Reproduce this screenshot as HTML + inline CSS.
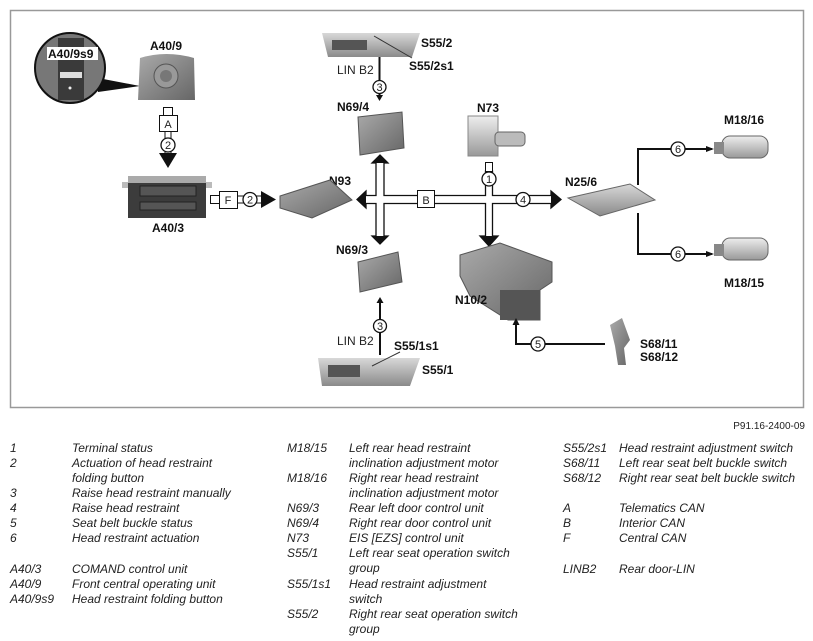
<!DOCTYPE html>
<html><head><meta charset="utf-8"><style>
html,body{margin:0;padding:0;background:#fff;}
svg{display:block;}
.b{font-family:"Liberation Sans",sans-serif;font-weight:bold;font-size:12px;fill:#111;}
.n{font-family:"Liberation Sans",sans-serif;font-size:12px;fill:#222;}
.c{font-family:"Liberation Sans",sans-serif;font-size:11px;fill:#222;text-anchor:middle;}
.l{font-family:"Liberation Sans",sans-serif;font-style:italic;font-size:12px;fill:#222;}
</style></head><body>
<svg width="813" height="641" viewBox="0 0 813 641" xmlns="http://www.w3.org/2000/svg">
<defs>
<linearGradient id="g1" x1="0" y1="0" x2="0" y2="1"><stop offset="0" stop-color="#d8d8d8"/><stop offset="1" stop-color="#8a8a8a"/></linearGradient>
<linearGradient id="g2" x1="0" y1="0" x2="1" y2="1"><stop offset="0" stop-color="#aaa"/><stop offset="1" stop-color="#666"/></linearGradient>
<linearGradient id="g3" x1="0" y1="0" x2="0" y2="1"><stop offset="0" stop-color="#eee"/><stop offset="1" stop-color="#999"/></linearGradient>
</defs>
<rect x="10.5" y="10.5" width="793" height="397" fill="#fff" stroke="#999" stroke-width="1.5"/>

<!-- A40/9s9 zoom circle -->
<polygon points="98,78 140,86 98,92" fill="#111"/>
<circle cx="70" cy="68" r="35" fill="#777" stroke="#111" stroke-width="2"/>
<rect x="58" y="38" width="26" height="62" fill="#3a3a3a"/>
<rect x="60" y="72" width="22" height="6" fill="#ddd"/>
<circle cx="70" cy="88" r="1.5" fill="#eee"/>
<rect x="47" y="47" width="51" height="13" fill="#fff"/>
<text class="b" x="48" y="58">A40/9s9</text>

<!-- A40/9 -->
<text class="b" x="150" y="50">A40/9</text>
<path d="M140,58 Q166,50 194,58 L195,100 L138,100 Z" fill="url(#g2)"/>
<circle cx="166" cy="76" r="12" fill="#999" stroke="#555"/>
<circle cx="166" cy="76" r="6" fill="#777"/>
<!-- A40/9 -> A40/3 -->
<rect x="163.5" y="107.5" width="9" height="8" fill="#fff" stroke="#111"/>
<rect x="159.5" y="115.5" width="18" height="16" fill="#fff" stroke="#111"/>
<text class="c" x="168" y="128">A</text>
<line x1="165" y1="131" x2="165" y2="153" stroke="#111"/><line x1="171" y1="131" x2="171" y2="153" stroke="#111"/>
<circle cx="168" cy="145" r="7" fill="#fff" stroke="#111" stroke-width="1.3"/>
<text class="c" x="168" y="149">2</text>
<polygon points="159,153 177,153 168,168" fill="#111"/>

<!-- A40/3 -->
<rect x="122" y="182" width="90" height="6" fill="#bbb"/>
<rect x="128" y="176" width="78" height="42" fill="#3c3c3c"/>
<rect x="128" y="176" width="78" height="7" fill="#aaa"/>
<rect x="140" y="186" width="56" height="10" fill="#555" stroke="#222"/>
<rect x="140" y="202" width="56" height="8" fill="#555" stroke="#222"/>
<text class="b" x="152" y="232">A40/3</text>
<!-- F connection -->
<rect x="210.5" y="195.5" width="9" height="8" fill="#fff" stroke="#111"/>
<rect x="219.5" y="191.5" width="18" height="17" fill="#fff" stroke="#111"/>
<text class="c" x="228" y="204">F</text>
<line x1="237" y1="196" x2="262" y2="196" stroke="#111"/><line x1="237" y1="203" x2="262" y2="203" stroke="#111"/>
<circle cx="250" cy="199.5" r="7" fill="#fff" stroke="#111" stroke-width="1.3"/>
<text class="c" x="250" y="203.5">2</text>
<polygon points="261,191 276,199.5 261,208" fill="#111"/>

<!-- N93 -->
<text class="b" x="340" y="185" text-anchor="middle">N93</text>
<polygon points="280,196 330,180 352,200 312,218 280,208" fill="url(#g2)" stroke="#555"/>

<!-- S55/2 -->
<polygon points="322,33 420,33 412,57 328,57" fill="url(#g1)"/>
<rect x="332" y="40" width="35" height="10" fill="#555"/>
<line x1="374" y1="36" x2="412" y2="58" stroke="#333"/>
<text class="b" x="421" y="47">S55/2</text>
<text class="b" x="409" y="70">S55/2s1</text>
<text class="n" x="337" y="74">LIN B2</text>
<line x1="379.5" y1="57" x2="379.5" y2="96" stroke="#111" stroke-width="2"/>
<circle cx="379.5" cy="87" r="6.5" fill="#fff" stroke="#111" stroke-width="1.3"/>
<text class="c" x="379.5" y="91">3</text>
<polygon points="376,95 383,95 379.5,101" fill="#111"/>
<text class="b" x="337" y="111">N69/4</text>
<path d="M358,117 L402,112 L404,148 L360,155 Z" fill="url(#g2)" stroke="#555"/>

<!-- Bus -->
<path d="M376,163 L376,195.5 L366,195.5 L366,191 L357,199.5 L366,208 L366,203.5 L376,203.5 L376,236 L372,236 L380,244 L388,236 L384,236 L384,203.5 L485.5,203.5 L485.5,236 L480,236 L489,246 L498,236 L492.5,236 L492.5,203.5 L551,203.5 L551,208 L561,199.5 L551,191 L551,195.5 L492.5,195.5 L492.5,171 L485.5,171 L485.5,195.5 L384,195.5 L384,163 L388,163 L380,155 L372,163 Z" fill="#fff" stroke="#111" stroke-width="1.3"/>
<polygon points="372,163 388,163 380,155" fill="#111"/>
<polygon points="372,236 388,236 380,244" fill="#111"/>
<polygon points="366,191 357,199.5 366,208" fill="#111"/>
<polygon points="551,191 561,199.5 551,208" fill="#111"/>
<polygon points="480,236 498,236 489,246" fill="#111"/>
<rect x="417.5" y="190.5" width="17" height="17" fill="#fff" stroke="#111"/>
<text class="c" x="426" y="204">B</text>
<rect x="485.5" y="162.5" width="7" height="9" fill="#fff" stroke="#111"/>
<circle cx="489" cy="179" r="7" fill="#fff" stroke="#111" stroke-width="1.3"/>
<text class="c" x="489" y="183">1</text>
<circle cx="523" cy="199.5" r="7" fill="#fff" stroke="#111" stroke-width="1.3"/>
<text class="c" x="523" y="203.5">4</text>

<!-- N73 -->
<text class="b" x="477" y="112">N73</text>
<rect x="468" y="116" width="30" height="40" fill="url(#g3)" stroke="#888"/>
<rect x="495" y="132" width="30" height="14" rx="4" fill="#bbb" stroke="#666"/>

<!-- N69/3 -->
<text class="b" x="336" y="254">N69/3</text>
<path d="M358,262 L398,252 L402,282 L360,292 Z" fill="url(#g2)" stroke="#555"/>
<!-- lower LIN -->
<line x1="380" y1="302" x2="380" y2="355" stroke="#111" stroke-width="2"/>
<polygon points="376.5,303 383.5,303 380,297" fill="#111"/>
<circle cx="380" cy="326" r="6.5" fill="#fff" stroke="#111" stroke-width="1.3"/>
<text class="c" x="380" y="330">3</text>
<text class="n" x="337" y="345">LIN B2</text>
<text class="b" x="394" y="350">S55/1s1</text>
<polygon points="318,358 420,358 410,386 322,386" fill="url(#g1)"/>
<rect x="328" y="365" width="32" height="12" fill="#555"/>
<line x1="400" y1="352" x2="372" y2="366" stroke="#333"/>
<text class="b" x="422" y="374">S55/1</text>

<!-- N10/2 -->
<polygon points="460,255 500,243 552,262 552,282 540,290 540,320 508,320 470,296 460,276" fill="url(#g2)" stroke="#555"/>
<rect x="500" y="290" width="40" height="30" fill="#555"/>
<text class="b" x="455" y="304">N10/2</text>
<!-- 5 -->
<path d="M605,344 L516,344 L516,324" fill="none" stroke="#111" stroke-width="2"/>
<polygon points="512.5,325 519.5,325 516,318" fill="#111"/>
<circle cx="538" cy="344" r="7" fill="#fff" stroke="#111" stroke-width="1.3"/>
<text class="c" x="538" y="348">5</text>
<path d="M610,325 L622,318 L630,340 L624,348 L626,365 L618,365 L615,346 Z" fill="url(#g2)"/>
<text class="b" x="640" y="348">S68/11</text>
<text class="b" x="640" y="361">S68/12</text>

<!-- N25/6 -->
<text class="b" x="565" y="186">N25/6</text>
<polygon points="568,198 630,184 655,200 600,216" fill="url(#g1)" stroke="#666"/>
<path d="M638,185 L638,149 L712,149" fill="none" stroke="#111" stroke-width="2"/>
<path d="M638,213 L638,254 L712,254" fill="none" stroke="#111" stroke-width="2"/>
<polygon points="706,146 714,149 706,152" fill="#111"/>
<polygon points="706,251 714,254 706,257" fill="#111"/>
<circle cx="678" cy="149" r="7" fill="#fff" stroke="#111" stroke-width="1.3"/>
<text class="c" x="678" y="153">6</text>
<circle cx="678" cy="254" r="7" fill="#fff" stroke="#111" stroke-width="1.3"/>
<text class="c" x="678" y="258">6</text>
<text class="b" x="724" y="124">M18/16</text>
<rect x="722" y="136" width="46" height="22" rx="8" fill="url(#g3)" stroke="#666"/>
<rect x="714" y="142" width="10" height="12" fill="#888"/>
<text class="b" x="724" y="287">M18/15</text>
<rect x="722" y="238" width="46" height="22" rx="8" fill="url(#g3)" stroke="#666"/>
<rect x="714" y="244" width="10" height="12" fill="#888"/>

<text class="n" x="805" y="429" text-anchor="end" style="font-size:10px">P91.16-2400-09</text>

<!-- Legend -->
<g class="l">
<text x="10" y="452">1</text><text x="72" y="452">Terminal status</text>
<text x="10" y="467">2</text><text x="72" y="467">Actuation of head restraint</text>
<text x="72" y="482">folding button</text>
<text x="10" y="497">3</text><text x="72" y="497">Raise head restraint manually</text>
<text x="10" y="512">4</text><text x="72" y="512">Raise head restraint</text>
<text x="10" y="527">5</text><text x="72" y="527">Seat belt buckle status</text>
<text x="10" y="542">6</text><text x="72" y="542">Head restraint actuation</text>
<text x="10" y="573">A40/3</text><text x="72" y="573">COMAND control unit</text>
<text x="10" y="588">A40/9</text><text x="72" y="588">Front central operating unit</text>
<text x="10" y="603">A40/9s9</text><text x="72" y="603">Head restraint folding button</text>

<text x="287" y="452">M18/15</text><text x="349" y="452">Left rear head restraint</text>
<text x="349" y="467">inclination adjustment motor</text>
<text x="287" y="482">M18/16</text><text x="349" y="482">Right rear head restraint</text>
<text x="349" y="497">inclination adjustment motor</text>
<text x="287" y="512">N69/3</text><text x="349" y="512">Rear left door control unit</text>
<text x="287" y="527">N69/4</text><text x="349" y="527">Right rear door control unit</text>
<text x="287" y="542">N73</text><text x="349" y="542">EIS [EZS] control unit</text>
<text x="287" y="557">S55/1</text><text x="349" y="557">Left rear seat operation switch</text>
<text x="349" y="572">group</text>
<text x="287" y="588">S55/1s1</text><text x="349" y="588">Head restraint adjustment</text>
<text x="349" y="603">switch</text>
<text x="287" y="618">S55/2</text><text x="349" y="618">Right rear seat operation switch</text>
<text x="349" y="633">group</text>

<text x="563" y="452">S55/2s1</text><text x="619" y="452">Head restraint adjustment switch</text>
<text x="563" y="467">S68/11</text><text x="619" y="467">Left rear seat belt buckle switch</text>
<text x="563" y="482">S68/12</text><text x="619" y="482">Right rear seat belt buckle switch</text>
<text x="563" y="512">A</text><text x="619" y="512">Telematics CAN</text>
<text x="563" y="527">B</text><text x="619" y="527">Interior CAN</text>
<text x="563" y="542">F</text><text x="619" y="542">Central CAN</text>
<text x="563" y="573">LINB2</text><text x="619" y="573">Rear door-LIN</text>
</g>
</svg>
</body></html>
